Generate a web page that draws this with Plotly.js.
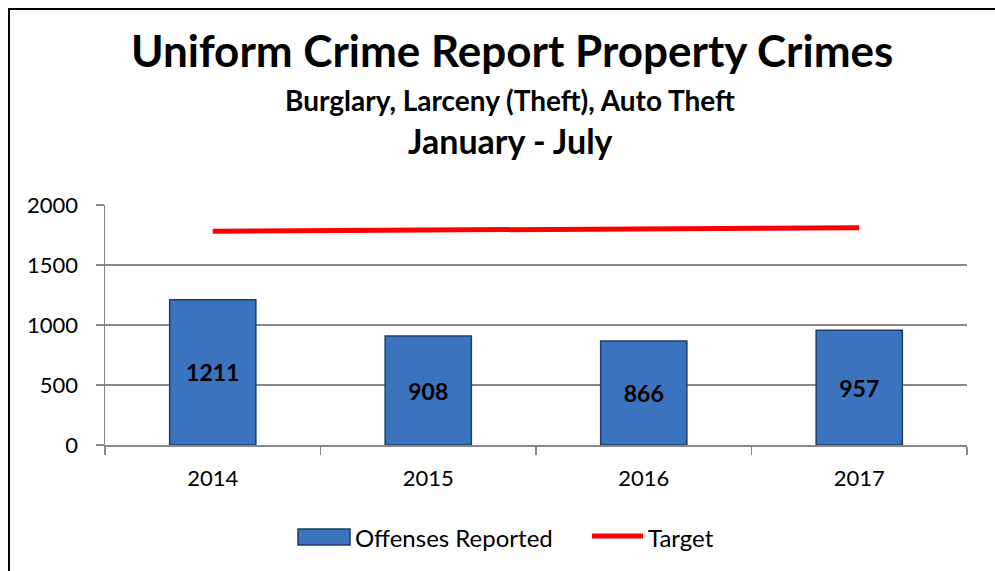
<!DOCTYPE html>
<html>
<head>
<meta charset="utf-8">
<script src="https://cdn.plot.ly/plotly-3.0.1.min.js"></script>
<style>
html,body{margin:0;padding:0;background:#fff;overflow:hidden;}
#frame{position:absolute;left:8px;top:8px;width:1100px;height:700px;border-left:2px solid #000;border-top:2px solid #000;}
#chart{position:absolute;left:0;top:0;width:995px;height:571px;}
</style>
</head>
<body>
<div id="frame"></div>
<div id="chart"></div>
<script>
const years = ["2014", "2015", "2016", "2017"];
const offenses = [1211, 908, 866, 957];
const target = [1781, 1791, 1802, 1811];
const yTicks = [0, 500, 1000, 1500, 2000];
const seriesNames = ["Offenses Reported", "Target"];
const titleText = "Uniform Crime Report Property Crimes";
const subtitleText = "Burglary, Larceny (Theft), Auto Theft";
const periodText = "January - July";

const W = 995, H = 571;
const M = {l: 105, r: 28, t: 205, b: 126};
const pw = W - M.l - M.r, ph = H - M.t - M.b;
const px2x = px => (px - M.l) / pw;
const py2y = py => (H - M.b - py) / ph;

const FONT = "Lato, 'Open Sans', sans-serif";
const BAR_FILL = "#3b73bf";
const BAR_EDGE = "#1d3c66";
const TARGET_COLOR = "#ff0000";

const traces = [
  {
    type: "bar",
    name: seriesNames[0],
    x: years,
    y: offenses,
    text: offenses.map(String),
    textposition: "inside",
    insidetextanchor: "middle",
    textfont: {family: FONT, size: 23, color: "#000", weight: "bold"},
    marker: {color: BAR_FILL, line: {color: BAR_EDGE, width: 1.5}},
    hoverinfo: "x+y"
  },
  {
    type: "scatter",
    mode: "lines",
    name: seriesNames[1],
    x: years,
    y: target,
    line: {color: TARGET_COLOR, width: 5},
    hoverinfo: "x+y"
  }
];

const ann = (text, xpx, ypx, size, anchor) => ({
  text, xref: "paper", yref: "paper", x: px2x(xpx), y: py2y(ypx),
  xanchor: anchor || "center", yanchor: "middle", showarrow: false,
  font: {family: FONT, size, color: "#000"}
});

const layout = {
  width: W, height: H,
  margin: M,
  paper_bgcolor: "rgba(0,0,0,0)",
  plot_bgcolor: "rgba(0,0,0,0)",
  font: {family: FONT, color: "#000"},
  showlegend: false,
  bargap: 0.6,
  xaxis: {
    type: "category",
    tickson: "boundaries",
    ticks: "outside",
    ticklen: 8,
    tickcolor: "#888",
    tickwidth: 1.5,
    ticklabelstandoff: 13,
    showline: true,
    linecolor: "#888",
    linewidth: 1.5,
    showgrid: false,
    tickfont: {family: FONT, size: 22, color: "#000"},
    fixedrange: true
  },
  yaxis: {
    range: [0, 2000],
    tickvals: yTicks,
    ticktext: yTicks.map(String),
    ticks: "outside",
    ticklen: 8,
    tickcolor: "#888",
    tickwidth: 1.5,
    ticklabelstandoff: 13,
    showline: true,
    linecolor: "#888",
    linewidth: 1.5,
    showgrid: true,
    gridcolor: "#888",
    gridwidth: 1.5,
    zeroline: false,
    tickfont: {family: FONT, size: 22, color: "#000"},
    fixedrange: true
  },
  shapes: [
    // legend swatches
    {type: "rect", xref: "paper", yref: "paper",
     x0: px2x(298), x1: px2x(350), y0: py2y(545), y1: py2y(529),
     fillcolor: BAR_FILL, line: {color: BAR_EDGE, width: 1.5}},
    {type: "line", xref: "paper", yref: "paper",
     x0: px2x(592), x1: px2x(643), y0: py2y(536), y1: py2y(536),
     line: {color: TARGET_COLOR, width: 5}}
  ],
  annotations: [
    ann("<b>" + titleText + "</b>", 512, 50, 44),
    ann("<b>" + subtitleText + "</b>", 510, 100, 28),
    ann("<b>" + periodText + "</b>", 510, 140, 34),
    ann(seriesNames[0], 353, 537, 24, "left"),
    ann(seriesNames[1], 646, 537, 24, "left")
  ]
};

Plotly.newPlot("chart", traces, layout, {displayModeBar: false, staticPlot: true});
</script>
</body>
</html>
